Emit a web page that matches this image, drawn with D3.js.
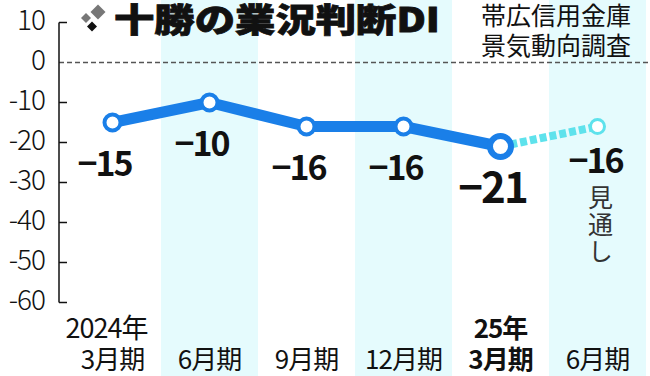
<!DOCTYPE html>
<html><head><meta charset="utf-8">
<script src="https://cdn.jsdelivr.net/npm/d3@7"></script>
<style>
html,body{margin:0;padding:0;background:#fff;}
svg{display:block;}
text{font-family:"Noto Sans CJK JP","Noto Sans",sans-serif;}
</style></head>
<body>
<svg id="c" width="650" height="376"></svg>
<script>
const categories = ["3月期","6月期","9月期","12月期","3月期","6月期"];
const yearLabels = ["2024年","","","","25年",""];
const boldCats = [false,false,false,false,true,false];
const shaded = [false,true,false,true,false,true];
const values = [-15,-10,-16,-16,-21];
const valueLabels = ["−15","−10","−16","−16","−21"];
const forecastIdx = [4,5];
const forecastValues = [-21,-16];
const forecastLabel = "−16";
const forecastNote = "見通し";
const yTicks = [10,0,-10,-20,-30,-40,-50,-60];
const title = "十勝の業況判断DI";
const source = ["帯広信用金庫","景気動向調査"];

const svg = d3.select("#c");
const x = d3.scaleBand().domain(d3.range(categories.length)).range([64,646]).padding(0);
const y = d3.scaleLinear().domain([10,-60]).range([22.5,302.5]);
const cx = i => x(i) + x.bandwidth()/2;

// shaded bands
svg.append("g").selectAll("rect").data(d3.range(categories.length).filter(i=>shaded[i]))
  .enter().append("rect")
  .attr("x", i=>x(i)).attr("width", x.bandwidth())
  .attr("y", 0).attr("height", 376)
  .attr("fill", "#e5fbfd");

// zero dashed line
svg.append("line").attr("x1",59).attr("x2",650).attr("y1",y(0)).attr("y2",y(0))
  .attr("stroke","#555").attr("stroke-width",1.3).attr("stroke-dasharray","5,3");

// y axis
const axisG = svg.append("g").attr("transform","translate(59,0)");
axisG.append("line").attr("x1",0).attr("x2",0).attr("y1",y(10)).attr("y2",y(-60))
  .attr("stroke","#111").attr("stroke-width",1.5);
axisG.selectAll("line.t").data(yTicks.filter(d=>d!==0)).enter().append("line").attr("class","t")
  .attr("x1",0).attr("x2",8).attr("y1",d=>y(d)).attr("y2",d=>y(d))
  .attr("stroke","#111").attr("stroke-width",1.5);
axisG.selectAll("text").data(yTicks).enter().append("text")
  .attr("x",-14).attr("y",d=>y(d)+7)
  .attr("text-anchor","end").attr("font-size",28).attr("font-weight",300)
  .attr("fill","#111").attr("letter-spacing",-1)
  .text(d=> d<0 ? "-"+Math.abs(d) : String(d));

// forecast dotted line
svg.append("line")
  .attr("x1",cx(forecastIdx[0])).attr("y1",y(forecastValues[0]))
  .attr("x2",cx(forecastIdx[1])).attr("y2",y(forecastValues[1]))
  .attr("stroke","#5ee2ec").attr("stroke-width",8).attr("stroke-dasharray","7,3");

// main line
const line = d3.line().x((d,i)=>cx(i)).y(d=>y(d));
svg.append("path").datum(values).attr("d",line)
  .attr("fill","none").attr("stroke","#1a7fe8").attr("stroke-width",11)
  .attr("stroke-linejoin","round");

// forecast circle
svg.append("circle").attr("cx",cx(forecastIdx[1])).attr("cy",y(forecastValues[1]))
  .attr("r",7).attr("fill","#fff").attr("stroke","#5ee2ec").attr("stroke-width",3);

// main circles
svg.append("g").selectAll("circle").data(values).enter().append("circle")
  .attr("cx",(d,i)=>cx(i)).attr("cy",d=>y(d))
  .attr("r",(d,i)=> i===values.length-1 ? 10.5 : 8)
  .attr("fill","#fff").attr("stroke","#1a7fe8")
  .attr("stroke-width",(d,i)=> i===values.length-1 ? 6 : 4);

// value labels
svg.append("g").selectAll("text").data(values).enter().append("text")
  .attr("x",(d,i)=>cx(i)-8)
  .attr("y",(d,i)=> y(d) + (i===values.length-1 ? 56 : 53))
  .attr("text-anchor","middle")
  .attr("font-size",(d,i)=> i===values.length-1 ? 42 : 34)
  .attr("font-weight",700).attr("letter-spacing",-2).attr("fill","#111")
  .text((d,i)=>valueLabels[i]);

// forecast label
svg.append("text").attr("x",cx(forecastIdx[1])-2).attr("y",y(forecastValues[1])+46)
  .attr("text-anchor","middle").attr("font-size",34).attr("font-weight",700)
  .attr("letter-spacing",-2).attr("fill","#111").text(forecastLabel);
svg.append("text")
  .attr("x",cx(forecastIdx[1])+3).attr("y",y(forecastValues[1])+58)
  .attr("writing-mode","vertical-rl").style("writing-mode","vertical-rl")
  .attr("font-size",25).attr("letter-spacing",2).attr("fill","#333")
  .text(forecastNote);

// x labels
const xl = svg.append("g");
xl.selectAll("text.c").data(categories).enter().append("text").attr("class","c")
  .attr("x",(d,i)=>cx(i)).attr("y",369)
  .attr("text-anchor","middle").attr("font-size",26)
  .attr("font-weight",(d,i)=>boldCats[i]?700:400).attr("letter-spacing",-1)
  .attr("fill","#111").text(d=>d);
xl.selectAll("text.yr").data(yearLabels.map((d,i)=>({d,i})).filter(o=>o.d)).enter().append("text").attr("class","yr")
  .attr("x",o=>cx(o.i)-(boldCats[o.i]?0:6)).attr("y",338)
  .attr("text-anchor","middle").attr("font-size",o=>boldCats[o.i]?26:27)
  .attr("font-weight",o=>boldCats[o.i]?700:400).attr("letter-spacing",-1)
  .attr("fill","#111").text(o=>o.d);

// title icon
const icon = svg.append("g");
const diamond = (cxp,cyp,h,fill)=> icon.append("rect")
  .attr("x",cxp-h/Math.SQRT2).attr("y",cyp-h/Math.SQRT2)
  .attr("width",h*Math.SQRT2).attr("height",h*Math.SQRT2)
  .attr("transform",`rotate(45 ${cxp} ${cyp})`).attr("fill",fill);
diamond(86,18,5,"#777");
diamond(98,12,7.5,"#777");
diamond(92,26.5,5,"#111");

svg.append("text").attr("x",114).attr("y",32)
  .attr("font-size",33).attr("font-weight",900).attr("fill","#111")
  .attr("stroke","#111").attr("stroke-width",0.8)
  .attr("textLength",326).attr("lengthAdjust","spacingAndGlyphs")
  .text(title);

svg.append("g").selectAll("text").data(source).enter().append("text")
  .attr("x",631).attr("y",(d,i)=>25+i*30)
  .attr("text-anchor","end").attr("font-size",25).attr("fill","#111")
  .text(d=>d);
</script>
</body></html>
